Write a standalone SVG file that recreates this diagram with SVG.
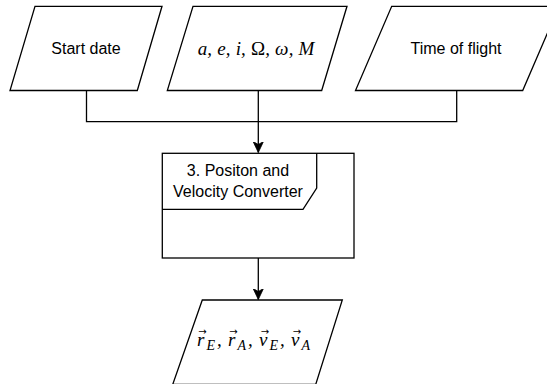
<svg xmlns="http://www.w3.org/2000/svg" width="547" height="384" viewBox="0 0 547 384">
  <style>
    .shape { fill: #ffffff; stroke: #000000; stroke-width: 1.3; }
    .edge { fill: none; stroke: #000000; stroke-width: 1.3; }
    .label { font-family: "Liberation Sans", Arial, sans-serif; font-size: 16px; fill: #000000; text-anchor: middle; }
    .math { font-family: "Liberation Serif", "Times New Roman", serif; font-style: italic; font-size: 19px; fill: #000000; }
    .sub { font-size: 14px; }
    .vec { font-family: "DejaVu Sans", sans-serif; font-style: normal; font-size: 10px; text-anchor: middle; }
  </style>
  <defs>
    <marker id="arrow" viewBox="0 0 12 12" refX="11" refY="6" markerWidth="12" markerHeight="12" markerUnits="userSpaceOnUse" orient="auto">
      <path d="M0,0.8 L11,6 L0,11.2 L3,6 Z" fill="#000000" stroke="#000000" stroke-width="0.8"/>
    </marker>
  </defs>

  <rect width="547" height="384" fill="#ffffff"/>

  <!-- connectors -->
  <g id="connectors">
    <polyline class="edge" points="86.5,90.5 86.5,121.7 456.7,121.7 456.7,90.5"/>
    <line class="edge" x1="258.3" y1="90.5" x2="258.3" y2="152.5" marker-end="url(#arrow)"/>
    <line class="edge" x1="258.3" y1="258" x2="258.3" y2="299.5" marker-end="url(#arrow)"/>
  </g>

  <!-- input: start date -->
  <g id="start-date">
    <polygon class="shape" points="35,6.3 162,6.3 137.3,90.5 10,90.5"/>
    <text class="label" x="86" y="54">Start date</text>
  </g>

  <!-- input: orbital elements -->
  <g id="orbital-elements">
    <polygon class="shape" points="193,6.3 347,6.3 321.7,90.5 167.3,90.5"/>
    <text class="math" x="197.7" y="55" font-size="20" textLength="116.6" lengthAdjust="spacing">a, e, i, <tspan font-style="normal">Ω</tspan>, ω, M</text>
  </g>

  <!-- input: time of flight -->
  <g id="time-of-flight">
    <polygon class="shape" points="391.7,6.3 559,6.3 522.7,90.5 355.5,90.5"/>
    <text class="label" x="456" y="54">Time of flight</text>
  </g>

  <!-- process: position and velocity converter -->
  <g id="converter">
    <rect class="shape" x="162.3" y="153.3" width="191.7" height="104.7"/>
    <path class="edge" d="M162.3,209.3 H303 L316.7,188 V153.3"/>
    <text class="label" x="238" y="176">3. Positon and</text>
    <text class="label" x="238" y="196.7">Velocity Converter</text>
  </g>

  <!-- output: state vectors (letters, subscripts, arrow accents) -->
  <g id="state-vectors">
    <polygon class="shape" points="202.3,300 342.3,300 315.7,384.5 172.7,384.5"/>
    <text class="math" x="197" y="346" font-size="20"><tspan x="197" y="346">r</tspan><tspan class="sub" x="206.5" y="350">E</tspan><tspan x="217" y="346">,</tspan><tspan x="228" y="346">r</tspan><tspan class="sub" x="237.5" y="350">A</tspan><tspan x="248" y="346">,</tspan><tspan x="259" y="346">v</tspan><tspan class="sub" x="269.5" y="350">E</tspan><tspan x="280" y="346">,</tspan><tspan x="291" y="346">v</tspan><tspan class="sub" x="301.5" y="350">A</tspan><tspan class="vec" x="202.5" y="335">→</tspan><tspan class="vec" x="233.5" y="335">→</tspan><tspan class="vec" x="265" y="335">→</tspan><tspan class="vec" x="297" y="335">→</tspan></text>
  </g>
</svg>
